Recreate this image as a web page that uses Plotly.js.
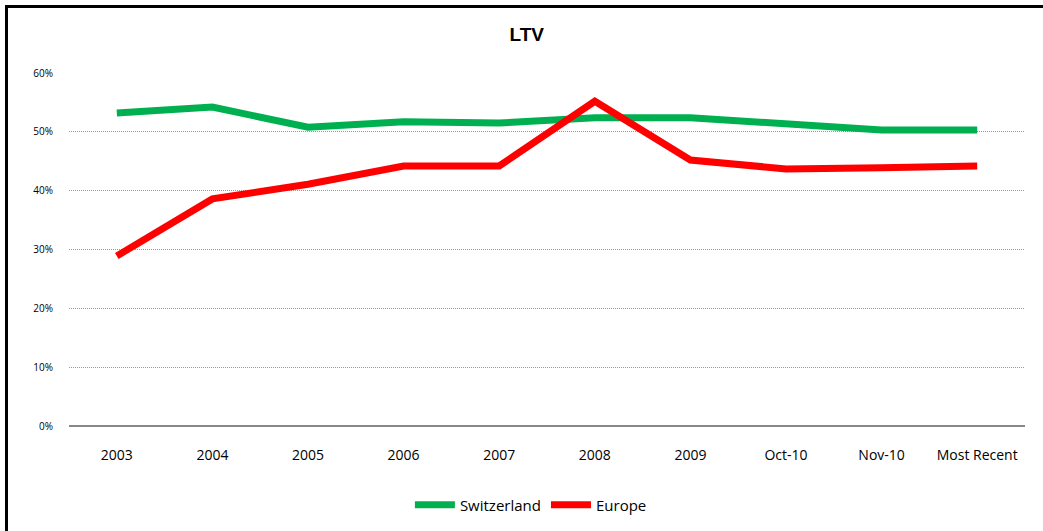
<!DOCTYPE html>
<html>
<head>
<meta charset="utf-8">
<script src="https://cdn.plot.ly/plotly-3.0.1.min.js"></script>
<style>
  html, body { margin: 0; padding: 0; overflow: hidden; background: #fff; }
  #chart { width: 1043px; height: 531px; }
  #frame { position: absolute; left: 5px; top: 5px; width: 1100px; height: 600px;
           border: 3px solid #000; pointer-events: none; }
</style>
</head>
<body>
<div id="chart"></div>
<div id="frame"></div>
<script>
var categories = ['2003', '2004', '2005', '2006', '2007', '2008', '2009', 'Oct-10', 'Nov-10', 'Most Recent'];
var switzerland = [0.532, 0.542, 0.508, 0.517, 0.515, 0.524, 0.524, 0.513, 0.503, 0.503];
var europe = [0.289, 0.386, 0.411, 0.442, 0.442, 0.552, 0.452, 0.437, 0.439, 0.442];
var yTicks = [0, 0.1, 0.2, 0.3, 0.4, 0.5, 0.6];

var data = [
  {
    type: 'scatter',
    mode: 'lines',
    name: 'Switzerland',
    x: categories,
    y: switzerland,
    line: { color: '#00B050', width: 7 }
  },
  {
    type: 'scatter',
    mode: 'lines',
    name: 'Europe',
    x: categories,
    y: europe,
    line: { color: '#FF0000', width: 7 }
  }
];

var layout = {
  width: 1043,
  height: 531,
  margin: { l: 69, r: 18, t: 73, b: 105 },
  paper_bgcolor: '#fff',
  plot_bgcolor: '#fff',
  showlegend: true,
  title: {
    text: '<b>LTV</b>',
    font: { family: 'Liberation Sans, Arial, sans-serif', size: 19, color: '#000' },
    x: 0.505,
    xanchor: 'center',
    y: 0.935,
    yanchor: 'middle'
  },
  font: { family: 'Open Sans, sans-serif', color: '#000' },
  xaxis: {
    type: 'category',
    range: [-0.5, 9.5],
    automargin: false,
    tickfont: { size: 14, color: '#000' },
    ticks: '',
    ticklabelstandoff: 19,
    showgrid: false,
    showline: false,
    zeroline: false
  },
  yaxis: {
    range: [0, 0.6],
    automargin: false,
    tickvals: yTicks,
    tickformat: '.0%',
    tickfont: { size: 10, color: '#000' },
    ticks: '',
    ticklabelstandoff: 15,
    showgrid: true,
    gridcolor: '#999',
    griddash: '1px,1px',
    gridwidth: 1,
    zeroline: true,
    zerolinecolor: '#888',
    zerolinewidth: 1.5,
    showline: false
  },
  legend: {
    orientation: 'h',
    xref: 'container',
    yref: 'container',
    x: 0.509,
    xanchor: 'center',
    y: 0.049,
    yanchor: 'middle',
    font: { size: 15, color: '#000' },
    itemwidth: 40,
    tracegroupgap: 0
  }
};

Plotly.newPlot('chart', data, layout, { displayModeBar: false, staticPlot: true });
</script>
</body>
</html>
